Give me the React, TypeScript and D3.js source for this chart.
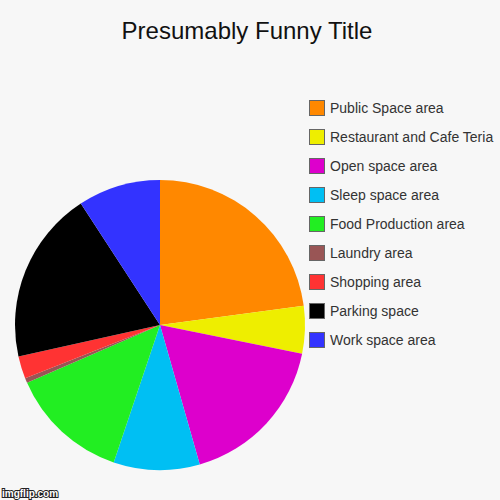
import { useEffect, useRef } from 'react';
import * as d3 from 'd3';

const categories = [
  'Public Space area',
  'Restaurant and Cafe Teria',
  'Open space area',
  'Sleep space area',
  'Food Production area',
  'Laundry area',
  'Shopping area',
  'Parking space',
  'Work space area',
];
const values = [22.9, 5.3, 17.4, 9.6, 13.3, 0.55, 2.5, 19.3, 9.2];
const colors = ['#ff8800', '#eeee00', '#dd00cc', '#00bff3', '#22ee22', '#995555', '#ff3333', '#000000', '#3333ff'];
const title = 'Presumably Funny Title';

export default function App() {
  const svgRef = useRef<SVGSVGElement>(null);

  useEffect(() => {
    if (!svgRef.current) return;
    document.body.style.margin = '0';

    const width = 500;
    const height = 500;
    const cx = 160;
    const cy = 325;
    const radius = 145;

    const svg = d3.select(svgRef.current);
    svg.selectAll('*').remove();

    svg.append('rect').attr('width', width).attr('height', height).attr('fill', '#f7f7f7');

    svg
      .append('text')
      .attr('x', 247)
      .attr('y', 39)
      .attr('text-anchor', 'middle')
      .attr('font-family', 'Arial, "Liberation Sans", sans-serif')
      .attr('font-size', 24)
      .attr('fill', '#111')
      .text(title);

    const data = categories.map((c, i) => ({ name: c, value: values[i], color: colors[i] }));

    const pie = d3
      .pie<{ name: string; value: number; color: string }>()
      .sort(null)
      .value((d) => d.value);

    const arc = d3
      .arc<d3.PieArcDatum<{ name: string; value: number; color: string }>>()
      .innerRadius(0)
      .outerRadius(radius);

    const g = svg.append('g').attr('transform', `translate(${cx},${cy})`);

    g.selectAll('path')
      .data(pie(data))
      .join('path')
      .attr('d', arc)
      .attr('fill', (d) => d.data.color);

    // legend
    const legend = svg.append('g').attr('transform', 'translate(309,100)');
    const row = d3
      .scaleBand<string>()
      .domain(categories)
      .range([0, 29 * categories.length]);

    const items = legend
      .selectAll('g')
      .data(data)
      .join('g')
      .attr('transform', (d) => `translate(0,${row(d.name)})`);

    items
      .append('rect')
      .attr('x', 0.5)
      .attr('y', 0.5)
      .attr('width', 15)
      .attr('height', 15)
      .attr('fill', (d) => d.color)
      .attr('stroke', '#666')
      .attr('stroke-width', 1);

    items
      .append('text')
      .attr('x', 21)
      .attr('y', 13)
      .attr('font-family', 'Arial, "Liberation Sans", sans-serif')
      .attr('font-size', 14)
      .attr('fill', '#333')
      .text((d) => d.name);

    // watermark
    svg
      .append('text')
      .attr('x', 2)
      .attr('y', 497)
      .attr('font-family', 'Arial, "Liberation Sans", sans-serif')
      .attr('font-size', 10)
      .attr('font-weight', 'bold')
      .attr('fill', '#fff')
      .attr('stroke', '#222')
      .attr('stroke-width', 2)
      .attr('paint-order', 'stroke')
      .text('imgflip.com');
  }, []);

  return (
    <div style={{ position: 'absolute', left: 0, top: 0 }}>
      <svg ref={svgRef} width={500} height={500} style={{ display: 'block' }} />
    </div>
  );
}
